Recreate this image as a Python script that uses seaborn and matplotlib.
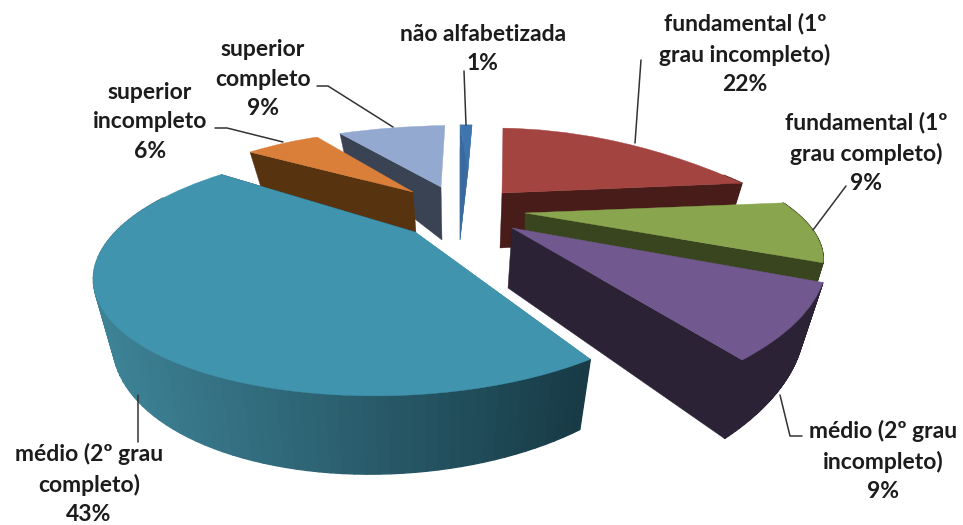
import numpy as np
import matplotlib
matplotlib.use("Agg")
import matplotlib.pyplot as plt
import matplotlib.colors as mcolors
from matplotlib.transforms import Transform
import seaborn as sns

# Data
categories = ['não alfabetizada', 'fundamental (1º\ngrau incompleto)', 'fundamental (1º\ngrau completo)',
              'médio (2º grau\nincompleto)', 'médio (2º grau\ncompleto)', 'superior\nincompleto', 'superior\ncompleto']
values = [1, 22, 9, 9, 43, 6, 9]

# Colours
top_colors = ['#3F75AD', '#A44441', '#89A54E', '#71588F', '#4094AE', '#D97F39', '#93A9CF']
side_left = ['#3A6A9E', '#481C19', '#39451E', '#2B2236', '#3E8397', '#57330F', '#3A4354']
side_right = ['#3A6A9E', '#481C19', '#39451E', '#2B2236', '#173A45', '#57330F', '#3A4354']

# View of each slice: apex x, y, then a, b, c, d, q, p of the projection
views = [
    (468, 170, 333.078, 7.04, 4.231, -79.473, -0.043, 0.762),
    (502, 193, 253.987, 1.716, 10.798, -120.493, -0.107, 0.857),
    (525, 213, 278.285, -10.701, 6.376, -97.62, -0.001, 0.321),
    (512, 228, 380.203, -12.182, 2.431, -155.315, 0.233, 0.185),
    (415, 232, 279.525, 31.934, 8.478, -110.711, 0.037, 0.324),
    (413, 192, 184.873, -10.731, -9.517, -91.016, 0.332, 0.532),
    (441, 187, 307.816, 25.709, 14.572, -95.662, -0.264, 0.552),
]
bottom_apex_x = [460, 500, 525, 508, 415, 416, 442]
apex_drop = [70, 55, 50, 60, 56, 41, 53]
rim_drop = [40, 55, 50, 77, 53, 41, 53]
rim_scale = [0, 0.94, 0.94, 0.94, 0.94, 0.94, 0.94]
# which cut faces show (0 clockwise end, -1 the other end)
faces = [(0, -1), (0,), (0,), (0,), (0, -1), (-1,), (-1,)]
layers = [2, 3, 4, 5, 6, 1, 0]

# Label centres and leader lines
label_pos = [(483, 49), (745, 54), (866, 153), (883, 461), (89, 484), (150, 122), (263, 79)]
leaders = [
    [(464, 71), (466, 125)],
    [(641, 60), (635, 143)],
    [(846, 186), (813, 230)],
    [(780, 395), (790, 436), (802, 436)],
    [(138, 395), (138, 442)],
    [(215, 128), (227, 128), (283, 142)],
    [(317, 86), (328, 86), (393, 127)],
]


class SliceView(Transform):
    input_dims = 2
    output_dims = 2

    def __init__(self, view):
        super().__init__()
        self.view = view

    def transform_non_affine(self, values):
        ax0, ay0, a, b, c, d, q, p = self.view
        xy = np.asarray(values, dtype=float)
        x, y = xy[:, 0], xy[:, 1]
        w = 1 + q * x + p * y
        return np.column_stack([ax0 + (a * x + b * y) / w, ay0 + (c * x + d * y) / w])


def side_points(view, ang, apex_x, drop, scale):
    # top and bottom rim of the slice at the given angles
    ax0, ay0, a, b, c, d, q, p = view
    x, y = np.cos(np.radians(ang)), np.sin(np.radians(ang))
    w = 1 + q * x + p * y
    top = SliceView(view).transform_non_affine(np.column_stack([x, y]))
    bottom = np.column_stack([apex_x + (top[:, 0] - ax0) * scale, top[:, 1] + drop / w])
    return top, bottom


sns.set_theme(style="white")
plt.rcParams['font.family'] = ['Lato', 'DejaVu Sans']

fig, ax = plt.subplots(figsize=(9.63, 5.25), dpi=100)
fig.subplots_adjust(left=0, right=1, bottom=0, top=1)

wedges, _ = ax.pie(values, startangle=90 + 360 / sum(values), counterclock=False,
                   colors=sns.color_palette(top_colors), wedgeprops=dict(linewidth=0))

for i, wedge in enumerate(wedges):
    view = views[i]
    wedge.set_transform(SliceView(view) + ax.transData)
    wedge.set_zorder(2 * layers[i] + 1)
    wedge.set_edgecolor(top_colors[i])
    wedge.set_linewidth(0.3)

    ang = np.linspace(wedge.theta1, wedge.theta2, 90)
    top, bottom = side_points(view, ang, bottom_apex_x[i], rim_drop[i], rim_scale[i])
    apex_top = np.array([view[0], view[1]])
    apex_bottom = np.array([bottom_apex_x[i], view[1] + apex_drop[i]])

    # the flat cut faces
    for k in faces[i]:
        colour = side_right[i] if k == 0 else side_left[i]
        face = np.array([apex_top, top[k], bottom[k], apex_bottom])
        ax.fill(face[:, 0], face[:, 1], color=colour, lw=0.3, zorder=2 * layers[i])

    # the round outer face, shaded from left to right, front part only
    cmap = mcolors.LinearSegmentedColormap.from_list('side', [side_left[i], side_right[i]])
    span = max(top[:, 0].max() - top[:, 0].min(), 1)
    for k in range(len(ang) - 1):
        if np.sin(np.radians(ang[k])) > 0.25:
            continue
        quad = np.array([top[k], top[k + 1], bottom[k + 1], bottom[k]])
        colour = cmap((top[k, 0] - top[:, 0].min()) / span)
        ax.fill(quad[:, 0], quad[:, 1], color=colour, lw=1.0, zorder=2 * layers[i])

ax.set_aspect('auto')
ax.set_xlim(0, 963)
ax.set_ylim(525, 0)
ax.axis('off')

for name, val, (lx, ly), line in zip(categories, values, label_pos, leaders):
    ax.text(lx, ly, f'{name}\n{val}%', ha='center', va='center', fontsize=16.5, fontweight='bold',
            color='#1c1c1c', linespacing=1.5, zorder=40)
    pts = np.array(line)
    ax.plot(pts[:, 0], pts[:, 1], color='#333333', lw=1.1, zorder=39)

fig.savefig('out.png', dpi=100)
